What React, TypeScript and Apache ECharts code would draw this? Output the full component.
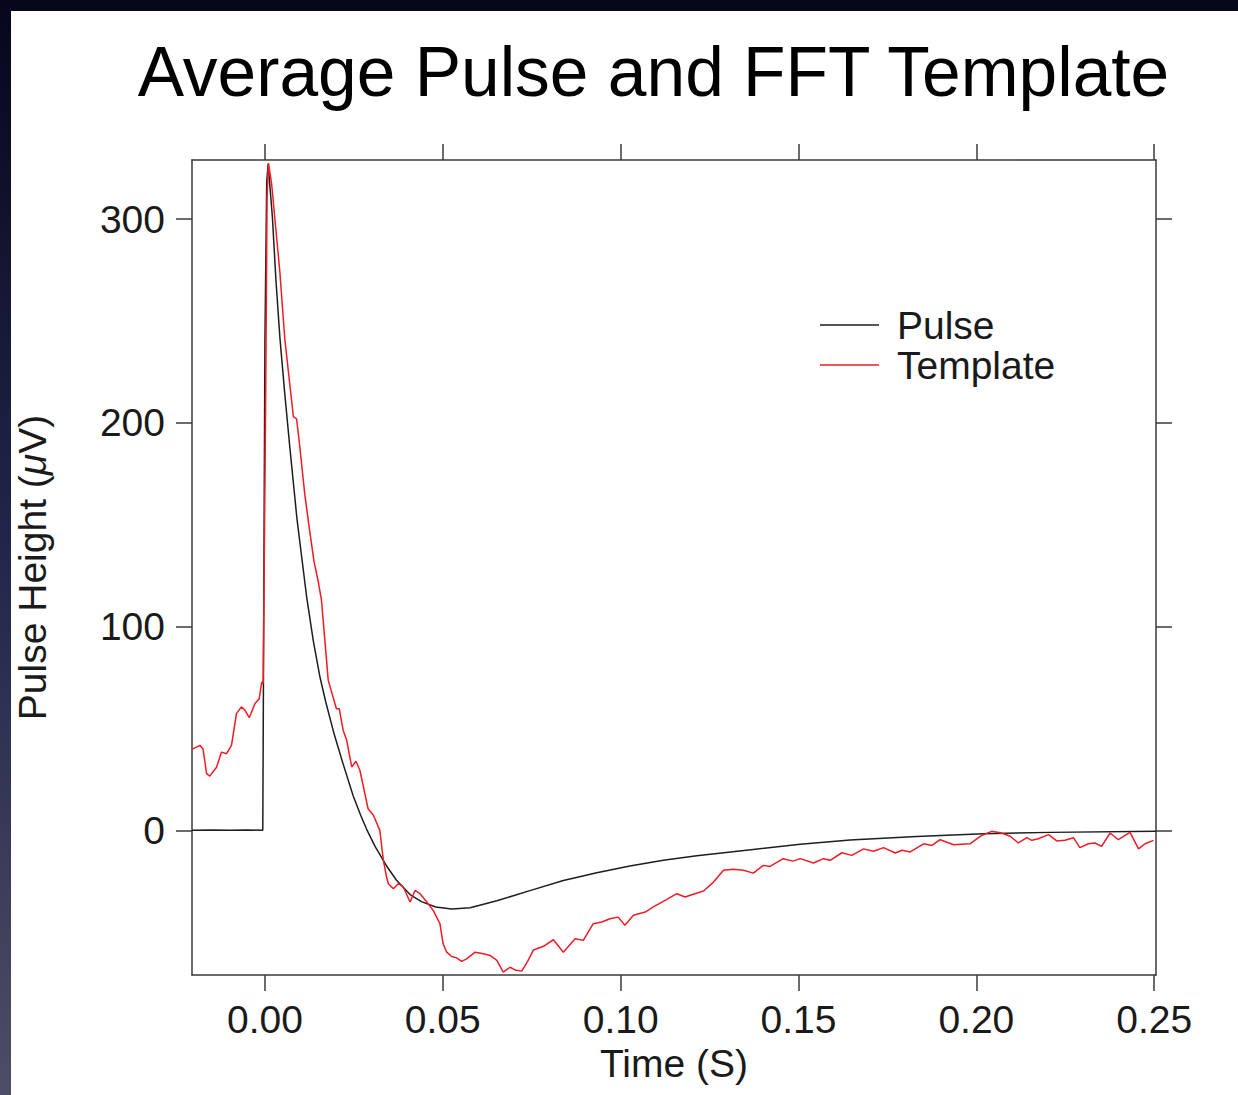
import React, { useEffect, useRef } from "react";
import * as echarts from "echarts";

const TITLE = "Average Pulse and FFT Template";
const X_TICKS = [0, 0.05, 0.1, 0.15, 0.2, 0.25];
const Y_TICKS = [0, 100, 200, 300];

const PULSE_T = [
  -0.0205, -0.015, -0.01, -0.005, -0.0006, -0.0004, 0.0, 0.0005, 0.0009, 0.0021, 0.0031, 0.0042, 0.0056,
  0.0070, 0.0090, 0.0117, 0.0136, 0.0155, 0.0171, 0.0195, 0.0220, 0.0248, 0.0270, 0.0286, 0.0310, 0.0342,
  0.0370, 0.0408, 0.0440, 0.0480, 0.0525, 0.0577, 0.0652, 0.0745, 0.0839, 0.0933, 0.1026, 0.1120, 0.1214,
  0.1360, 0.1505, 0.1645, 0.1832, 0.2020, 0.2208, 0.2505,
];
const PULSE_V = [
  0, 0.2, 0, 0.2, 0, 80, 240, 318, 327, 301, 270, 242, 214,
  188, 153, 115, 93, 75, 63, 47, 32.5, 17, 7, 0.5, -8, -17.5,
  -24.5, -31.5, -35, -37.6, -38.6, -38, -34.6, -29.6, -24.6, -20.8, -17.5, -14.7, -12.5,
  -9.6, -6.8, -4.8, -3, -1.7, -1, -0.4,
];

const TEMPLATE_T = [
  -0.0205, -0.0201, -0.0183, -0.0174, -0.0164, -0.0155, -0.0136, -0.0122, -0.0108, -0.0094, -0.008, -0.0066,
  -0.0056, -0.0044, -0.0028, -0.0016, -0.0009, -0.0005, -0.0003, 0.0002, 0.0006, 0.001, 0.0019, 0.0042,
  0.0056, 0.008, 0.0089, 0.0097, 0.0112, 0.0125, 0.0138, 0.015, 0.0159, 0.0178, 0.0201, 0.0209, 0.022,
  0.023, 0.0244, 0.0256, 0.0267, 0.029, 0.0305, 0.0323, 0.0333, 0.0342, 0.0347, 0.0361, 0.0375, 0.0389,
  0.0408, 0.0422, 0.0436, 0.0455, 0.0473, 0.0492, 0.0501, 0.0511, 0.0525, 0.0539, 0.0553, 0.0567, 0.0591,
  0.0614, 0.0633, 0.0652, 0.067, 0.0689, 0.0703, 0.0722, 0.074, 0.0755, 0.0783, 0.0811, 0.0839, 0.0872,
  0.0895, 0.0923, 0.0947, 0.097, 0.0993, 0.1012, 0.1036, 0.1069, 0.1092, 0.1125, 0.1158, 0.1181, 0.12,
  0.1233, 0.1261, 0.1289, 0.1317, 0.1345, 0.1373, 0.1401, 0.142, 0.1457, 0.1485, 0.1505, 0.1542, 0.157,
  0.1589, 0.1622, 0.165, 0.1683, 0.1711, 0.1739, 0.1772, 0.1791, 0.1814, 0.1852, 0.1875, 0.1898, 0.1936,
  0.1982, 0.2015, 0.2043, 0.2071, 0.2095, 0.2118, 0.2142, 0.2156, 0.2174, 0.2203, 0.2226, 0.2249, 0.2273,
  0.2291, 0.2315, 0.2333, 0.2352, 0.2376, 0.2399, 0.2432, 0.2456, 0.2474, 0.2498,
];
const TEMPLATE_V = [
  40, 40.1, 41.7, 40, 27.8, 26.6, 31, 38.4, 37.6, 41.7, 57.3, 60.6,
  58.9, 55.3, 62.2, 64.6, 72.8, 72, 110, 210, 310, 327.5, 317, 274,
  241, 203, 202, 190, 165, 148, 132, 122, 113, 73.6, 59.7, 59.7, 49,
  44.2, 31.1, 33.9, 29.5, 10.6, 7.4, 0, -14.7, -22.9, -26.2, -28.7, -26.2, -27.8,
  -35.2, -29.5, -31.1, -35.2, -39.3, -45.8, -55.7, -59.8, -61.9, -62.6, -64.3, -63.1, -59.8,
  -60.6, -61.4, -63.8, -69.6, -67.2, -68.5, -69.1, -63.8, -58.7, -56.9, -53.7, -59.8, -53.2,
  -54, -45.8, -45, -43.4, -42.6, -46.6, -41.7, -40.1, -37.6, -34.4, -31.1, -32.7, -31.6,
  -29.8, -25.4, -19.6, -19.1, -19.6, -21, -17.2, -17.7, -13.9, -15.1, -13.9, -16, -13.9,
  -14.7, -11, -12.3, -9.1, -10.3, -8.5, -11.1, -9.8, -10.6, -6.6, -7.4, -4.6, -7.1,
  -6.6, -2.5, -0.5, -1.3, -2.9, -6.2, -3.6, -4.9, -4.1, -2.1, -5.2, -4.9, -3.6,
  -8.5, -6.6, -6.2, -7.9, -1.3, -4.6, -1, -9.1, -6.6, -4.9,
];

const FONT = '"Liberation Sans", Arial, Helvetica, sans-serif';
const AXIS_COLOR = "#3a3a3a";
const TEXT_COLOR = "#1a1a1a";

export default function App() {
  const ref = useRef<HTMLDivElement>(null);

  useEffect(() => {
    if (!ref.current) return;
    const chart = echarts.init(ref.current, undefined, { renderer: "svg" });

    const pulseData = PULSE_T.map((t, i) => [t, PULSE_V[i]]);
    const templateData = TEMPLATE_T.map((t, i) => [t, TEMPLATE_V[i]]);

    const axisLine = { show: true, onZero: false, lineStyle: { color: AXIS_COLOR, width: 1.5 } };
    const tick = (vals: number[]) => ({
      show: true,
      inside: false,
      length: 16,
      customValues: vals,
      lineStyle: { color: AXIS_COLOR, width: 1.5 },
    });

    chart.setOption({
      animation: false,
      backgroundColor: "#ffffff",
      graphic: [
        {
          type: "rect",
          shape: { x: 0, y: 0, width: 1238, height: 11 },
          style: { fill: "#05071a" },
          silent: true,
        },
        {
          type: "rect",
          shape: { x: 0, y: 0, width: 11, height: 1095 },
          style: {
            fill: new echarts.graphic.LinearGradient(0, 0, 0, 1, [
              { offset: 0, color: "#05071c" },
              { offset: 0.5, color: "#23254a" },
              { offset: 1, color: "#4d4d66" },
            ]),
          },
          silent: true,
        },
        {
          type: "text",
          x: 653.5,
          y: 72,
          style: {
            text: TITLE,
            fontSize: 69.5,
            fontFamily: FONT,
            fill: "#000000",
            align: "center",
            verticalAlign: "middle",
          },
        },
      ],
      grid: { left: 192, top: 160, right: 82, bottom: 120, containLabel: false },
      legend: {
        orient: "vertical",
        left: 815,
        top: 300,
        icon: "rect",
        itemWidth: 59,
        itemHeight: 1.5,
        itemGap: 0,
        data: ["Pulse", "Template"],
        textStyle: {
          fontSize: 39,
          fontFamily: FONT,
          color: TEXT_COLOR,
          lineHeight: 40,
          padding: [0, 0, 0, 13],
        },
      },
      xAxis: [
        {
          type: "value",
          position: "bottom",
          min: -0.0205,
          max: 0.2505,
          axisLine,
          axisTick: tick(X_TICKS),
          splitLine: { show: false },
          axisLabel: {
            customValues: X_TICKS,
            formatter: (v: number) => v.toFixed(2),
            fontSize: 39,
            fontFamily: FONT,
            color: TEXT_COLOR,
            margin: 25,
          },
          name: "Time (S)",
          nameLocation: "middle",
          nameGap: 68,
          nameTextStyle: { fontSize: 39, fontFamily: FONT, color: TEXT_COLOR },
        },
        {
          type: "value",
          position: "top",
          min: -0.0205,
          max: 0.2505,
          axisLine,
          axisTick: tick(X_TICKS),
          splitLine: { show: false },
          axisLabel: { show: false },
        },
      ],
      yAxis: [
        {
          type: "value",
          position: "left",
          min: -71,
          max: 329,
          axisLine,
          axisTick: tick(Y_TICKS),
          splitLine: { show: false },
          axisLabel: {
            customValues: Y_TICKS,
            fontSize: 39,
            fontFamily: FONT,
            color: TEXT_COLOR,
            margin: 27,
          },
          name: "Pulse Height ({i|μ}V)",
          nameLocation: "middle",
          nameGap: 140,
          nameRotate: 90,
          nameTextStyle: {
            fontSize: 39,
            fontFamily: FONT,
            color: TEXT_COLOR,
            rich: { i: { fontSize: 39, fontFamily: FONT, fontStyle: "italic", color: TEXT_COLOR } },
          },
        },
        {
          type: "value",
          position: "right",
          min: -71,
          max: 329,
          axisLine,
          axisTick: tick(Y_TICKS),
          splitLine: { show: false },
          axisLabel: { show: false },
        },
      ],
      series: [
        {
          name: "Pulse",
          type: "line",
          xAxisIndex: 0,
          yAxisIndex: 0,
          data: pulseData,
          showSymbol: false,
          symbol: "none",
          color: "#1e1e1e",
          lineStyle: { color: "#1e1e1e", width: 1.5 },
          z: 3,
        },
        {
          name: "Template",
          type: "line",
          xAxisIndex: 0,
          yAxisIndex: 0,
          data: templateData,
          showSymbol: false,
          symbol: "none",
          color: "#ee1c25",
          lineStyle: { color: "#ee1c25", width: 1.5 },
          z: 4,
        },
      ],
    });

    return () => chart.dispose();
  }, []);

  return (
    <div
      ref={ref}
      style={{ position: "fixed", left: 0, top: 0, width: 1238, height: 1095 }}
    />
  );
}
